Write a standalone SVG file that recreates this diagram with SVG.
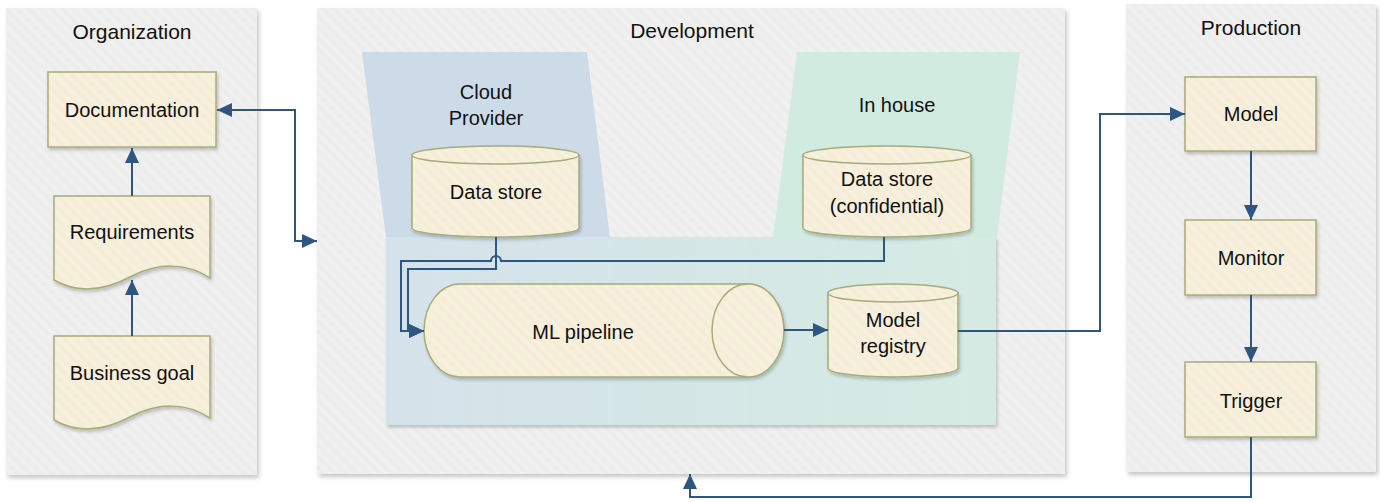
<svg xmlns="http://www.w3.org/2000/svg" width="1380" height="502" viewBox="0 0 1380 502">
  <style>
    text { font-family: "Liberation Sans", Arial, sans-serif; fill: #111; text-anchor: middle; dominant-baseline: central; }
    .title { font-size: 21px; }
    .lbl { font-size: 20px; }
    .panel { fill: url(#grayStripes); filter: url(#shadow); }
    .node { fill: url(#creamStripes); stroke: #a6ab7a; stroke-width: 1.5; }
    .nodeShadow { filter: url(#shadowSmall); }
    .conn { fill: none; stroke: #2f5680; stroke-width: 2; }
  </style>
  <defs>
    <pattern id="grayStripes" width="8" height="8" patternUnits="userSpaceOnUse" patternTransform="rotate(-45)">
      <rect width="8" height="8" fill="#ededed"/>
      <rect width="4" height="8" fill="#f0f0f0"/>
    </pattern>
    <pattern id="creamStripes" width="8" height="8" patternUnits="userSpaceOnUse" patternTransform="rotate(-45)">
      <rect width="8" height="8" fill="#f5edd7"/>
      <rect width="4" height="8" fill="#f7f0dd"/>
    </pattern>
    <linearGradient id="lowerGrad" x1="0" y1="0" x2="1" y2="0">
      <stop offset="0" stop-color="#d5e2eb"/>
      <stop offset="1" stop-color="#d5ebe2"/>
    </linearGradient>
    <filter id="shadow" x="-5%" y="-5%" width="115%" height="115%">
      <feDropShadow dx="2" dy="3" stdDeviation="2" flood-color="#000" flood-opacity="0.22"/>
    </filter>
    <filter id="shadowSmall" x="-10%" y="-10%" width="125%" height="130%">
      <feDropShadow dx="1.5" dy="2.5" stdDeviation="1.5" flood-color="#000" flood-opacity="0.2"/>
    </filter>
    <marker id="arrow" viewBox="0 0 15 14" refX="15" refY="7" markerWidth="15" markerHeight="14" markerUnits="userSpaceOnUse" orient="auto-start-reverse">
      <path d="M0,0 L15,7 L0,14 Z" fill="#2f5680"/>
    </marker>
  </defs>

  <!-- Panels -->
  <g id="panel-organization">
    <rect class="panel" x="6" y="8" width="251" height="467"/>
    <text class="title" x="132" y="31">Organization</text>
  </g>
  <g id="panel-development">
    <rect class="panel" x="317" y="8" width="748" height="466"/>
    <text class="title" x="692" y="30">Development</text>
  </g>
  <g id="panel-production">
    <rect class="panel" x="1126" y="4" width="250" height="468"/>
    <text class="title" x="1251" y="27">Production</text>
  </g>

  <!-- Development zones -->
  <g id="zone-cloud">
    <polygon points="362,52 587,52 610,238 386,238" fill="#cddbe8"/>
    <text class="lbl" x="486" y="92">Cloud</text>
    <text class="lbl" x="486" y="118">Provider</text>
  </g>
  <g id="zone-inhouse">
    <polygon points="797,52 1020,52 997,238 773,238" fill="#d2ebe1"/>
    <text class="lbl" x="897" y="105">In house</text>
  </g>
  <g id="zone-lower">
    <rect x="386" y="237" width="610" height="188" fill="url(#lowerGrad)" filter="url(#shadowSmall)"/>
  </g>

  <!-- Organization nodes -->
  <g id="node-documentation">
    <rect class="node nodeShadow" x="48" y="72" width="168" height="75"/>
    <text class="lbl" x="132" y="110">Documentation</text>
  </g>
  <g id="node-requirements">
    <path class="node nodeShadow" d="M54,196 H210 V278 C186,262 158,263 132,276 C108,289 80,295 54,280 Z"/>
    <text class="lbl" x="132" y="232">Requirements</text>
  </g>
  <g id="node-business-goal">
    <path class="node nodeShadow" d="M54,336 H210 V418 C186,402 158,403 132,416 C108,429 80,435 54,420 Z"/>
    <text class="lbl" x="132" y="373">Business goal</text>
  </g>

  <!-- Development nodes -->
  <g id="node-cloud-datastore">
    <path class="node nodeShadow" d="M412,155 V228 A83.5,9 0 0 0 579,228 V155 Z"/>
    <ellipse class="node" cx="495.5" cy="155" rx="83.5" ry="9"/>
    <text class="lbl" x="496" y="192">Data store</text>
  </g>
  <g id="node-inhouse-datastore">
    <path class="node nodeShadow" d="M803,155 V228 A84,9 0 0 0 971,228 V155 Z"/>
    <ellipse class="node" cx="887" cy="155" rx="84" ry="9"/>
    <text class="lbl" x="887" y="179">Data store</text>
    <text class="lbl" x="887" y="206">(confidential)</text>
  </g>
  <g id="node-ml-pipeline">
    <path class="node nodeShadow" d="M460,284 H748 A36,46.5 0 0 1 748,377 H460 A36,46.5 0 0 1 460,284 Z"/>
    <ellipse class="node" cx="748" cy="330.5" rx="36" ry="46.5"/>
    <text class="lbl" x="583" y="332">ML pipeline</text>
  </g>
  <g id="node-model-registry">
    <path class="node nodeShadow" d="M828,293 V368 A65,9 0 0 0 958,368 V293 Z"/>
    <ellipse class="node" cx="893" cy="293" rx="65" ry="9"/>
    <text class="lbl" x="893" y="320">Model</text>
    <text class="lbl" x="893" y="346">registry</text>
  </g>

  <!-- Production nodes -->
  <g id="node-model">
    <rect class="node nodeShadow" x="1185" y="77" width="131" height="74"/>
    <text class="lbl" x="1251" y="114">Model</text>
  </g>
  <g id="node-monitor">
    <rect class="node nodeShadow" x="1185" y="220" width="131" height="75"/>
    <text class="lbl" x="1251" y="258">Monitor</text>
  </g>
  <g id="node-trigger">
    <rect class="node nodeShadow" x="1185" y="362" width="131" height="75"/>
    <text class="lbl" x="1251" y="401">Trigger</text>
  </g>

  <!-- Connectors -->
  <g id="connectors">
    <path class="conn" d="M132,336 V280" marker-end="url(#arrow)"/>
    <path class="conn" d="M132,196 V148" marker-end="url(#arrow)"/>
    <path class="conn" d="M217,110 H295 V241 H317" marker-start="url(#arrow)" marker-end="url(#arrow)"/>
    <path class="conn" d="M496,237 V269 H408 V331 H424" marker-end="url(#arrow)"/>
    <path class="conn" d="M884,237 V261 H501 A5,5 0 0 0 491,261 H401 V331 H424" marker-end="url(#arrow)"/>
    <path class="conn" d="M784,330 H828" marker-end="url(#arrow)"/>
    <path class="conn" d="M958,331 H1100 V114 H1185" marker-end="url(#arrow)"/>
    <path class="conn" d="M1251,151 V220" marker-end="url(#arrow)"/>
    <path class="conn" d="M1251,295 V362" marker-end="url(#arrow)"/>
    <path class="conn" d="M1251,437 V497 H690 V474" marker-end="url(#arrow)"/>
  </g>
</svg>
